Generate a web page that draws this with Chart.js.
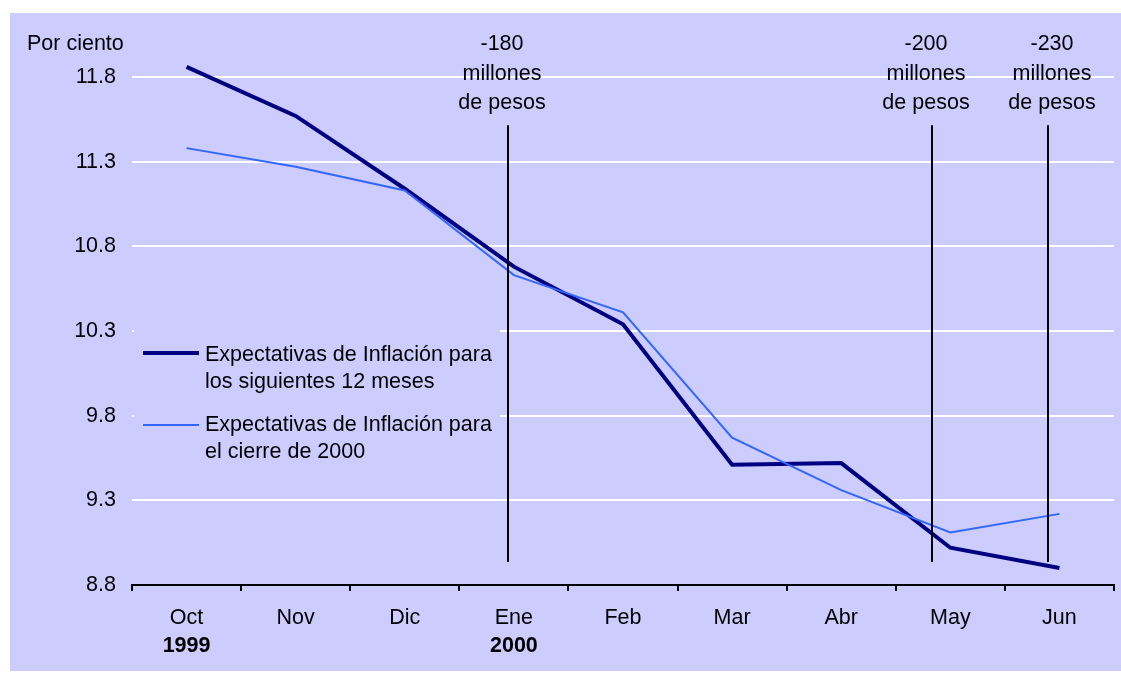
<!DOCTYPE html>
<html><head><meta charset="utf-8">
<script src="https://cdn.jsdelivr.net/npm/chart.js@4.4.0/dist/chart.umd.min.js"></script>
<style>html,body{margin:0;padding:0;background:#fff;}canvas{display:block;}</style>
</head><body>
<canvas id="c" width="1121" height="673"></canvas>
<script>
// ---- data ----
const categories = ['Oct','Nov','Dic','Ene','Feb','Mar','Abr','May','Jun'];
const yearLabels = ['1999','','','2000','','','','',''];
const expect12m = [11.86,11.57,11.14,10.68,10.34,9.51,9.52,9.02,8.90];
const expectCierre2000 = [11.38,11.27,11.13,10.63,10.41,9.67,9.36,9.11,9.22];
const label12m = ['Expectativas de Inflación para','los siguientes 12 meses'];
const labelCierre = ['Expectativas de Inflación para','el cierre de 2000'];
const yTicks = [8.8,9.3,9.8,10.3,10.8,11.3,11.8];
const yAxisTitle = 'Por ciento';
const annotationCats = ['Ene','May','Jun'];
const annotationShift = [-0.054,-0.168,-0.105];
const annotationTexts = [['-180','millones','de pesos'],['-200','millones','de pesos'],['-230','millones','de pesos']];

const FONT = '"Liberation Sans", Arial, sans-serif';
const FS = 21.5;
const BG = '#CCCCFF';

const decor = {
  id: 'decor',
  beforeDraw(chart) {
    const c = chart.ctx;
    c.save();
    c.fillStyle = '#fff'; c.fillRect(0, 0, chart.width, chart.height);
    c.fillStyle = BG; c.fillRect(10, 13, chart.width - 10, 658);
    c.restore();
  },
  beforeDatasetsDraw(chart) {
    const c = chart.ctx;
    c.save();
    // legend box hides gridlines
    c.fillStyle = BG; c.fillRect(134, 322, 366, 148);
    const ds = chart.data.datasets;
    const rows = [[353, 355.5, 382], [425, 425.5, 452.5]];
    ds.forEach((d, i) => {
      const r = rows[i];
      c.strokeStyle = d.borderColor; c.lineWidth = d.borderWidth; c.lineCap = 'butt';
      c.beginPath(); c.moveTo(143, r[0]); c.lineTo(199, r[0]); c.stroke();
      c.fillStyle = '#000'; c.font = FS + 'px ' + FONT; c.textAlign = 'left'; c.textBaseline = 'middle';
      c.fillText(d.label[0], 205, r[1]);
      c.fillText(d.label[1], 205, r[2]);
    });
    c.restore();
  },
  afterDatasetsDraw(chart) {
    const c = chart.ctx, x = chart.scales.x, y = chart.scales.y;
    c.save();
    const dxs = [-6, -6, 4];
    annotationCats.forEach((cat, i) => {
      const px = Math.round(x.getPixelForValue(categories.indexOf(cat) + annotationShift[i]));
      c.strokeStyle = '#000'; c.lineWidth = 2;
      c.beginPath(); c.moveTo(px, y.getPixelForValue(11.515)); c.lineTo(px, y.getPixelForValue(8.936)); c.stroke();
      c.fillStyle = '#000'; c.font = FS + 'px ' + FONT; c.textAlign = 'center'; c.textBaseline = 'middle';
      annotationTexts[i].forEach((t, k) => c.fillText(t, px + dxs[i], 44.5 + k * 29.3));
    });
    c.restore();
  },
  afterDraw(chart) {
    const c = chart.ctx, x = chart.scales.x;
    c.save();
    c.fillStyle = '#000'; c.textBaseline = 'middle';
    c.font = FS + 'px ' + FONT; c.textAlign = 'left';
    c.fillText(yAxisTitle, 27, 44);
    c.font = 'bold ' + FS + 'px ' + FONT; c.textAlign = 'center';
    yearLabels.forEach((t, i) => { if (t) c.fillText(t, x.getPixelForValue(i), 646.5); });
    c.restore();
  }
};

new Chart(document.getElementById('c'), {
  type: 'line',
  data: {
    labels: categories,
    datasets: [
      { label: label12m, data: expect12m, borderColor: '#000080', borderWidth: 4, order: 1 },
      { label: labelCierre, data: expectCierre2000, borderColor: '#3366FF', borderWidth: 2, order: 0 }
    ]
  },
  options: {
    responsive: false,
    animation: false,
    devicePixelRatio: 1,
    layout: { padding: { left: 0, top: 77, right: 7, bottom: 0 } },
    elements: { point: { radius: 0 }, line: { tension: 0, fill: false, borderJoinStyle: 'miter' } },
    datasets: { line: { clip: false } },
    plugins: { legend: { display: false }, tooltip: { enabled: false } },
    scales: {
      x: {
        type: 'category',
        offset: true,
        grid: { offset: true, drawOnChartArea: false, drawTicks: true, tickLength: 6, color: '#000', lineWidth: 2 },
        border: { display: true, color: '#000', width: 2 },
        ticks: { color: '#000', font: { family: FONT, size: FS }, padding: 14, maxRotation: 0, autoSkip: false },
        afterFit(s) { s.height = 88; }
      },
      y: {
        min: 8.8, max: 11.8,
        afterBuildTicks(s) { s.ticks = yTicks.map(v => ({ value: v })); },
        grid: { drawTicks: false, lineWidth: 2, color: ctx => (ctx.tick && ctx.tick.value === yTicks[0]) ? 'rgba(0,0,0,0)' : '#ffffff' },
        border: { display: false },
        ticks: { color: '#000', font: { family: FONT, size: FS }, padding: 16, callback: v => Number(v).toFixed(1) },
        afterFit(s) { s.width = 132; }
      }
    }
  },
  plugins: [decor]
});
</script>
</body></html>
